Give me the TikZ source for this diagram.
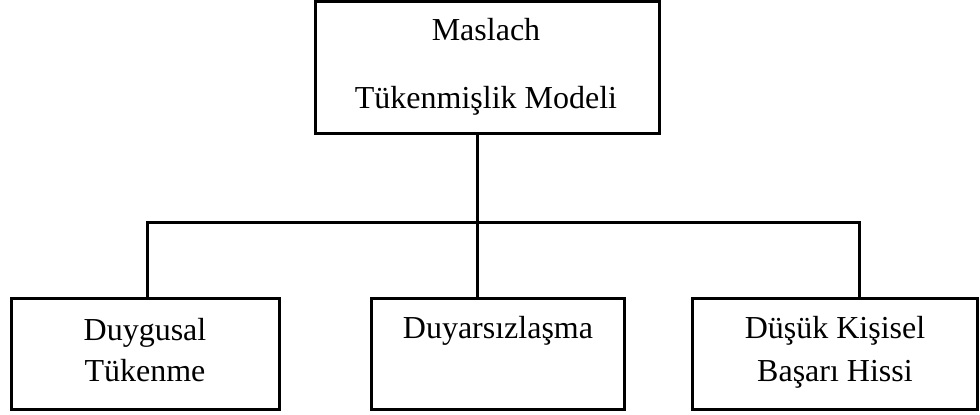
\documentclass[tikz,border=0pt]{standalone}
\usepackage{fontspec}
\setmainfont{Liberation Serif}
\begin{document}
\begin{tikzpicture}[x=1pt,y=-1pt,
  box/.style={draw=black, line width=3pt, rectangle, inner sep=0pt},
  lbl/.style={anchor=base, inner sep=0pt, font=\fontsize{32}{42}\selectfont},
  link/.style={draw=black, line width=3pt}]
\useasboundingbox (0,0) rectangle (980,415);

% boxes
\node[box, minimum width=344pt, minimum height=132pt] (top) at (487.5,67.5) {};
\node[box, minimum width=268pt, minimum height=111pt] (left) at (145,353.5) {};
\node[box, minimum width=253pt, minimum height=111pt] (mid) at (497.5,353.5) {};
\node[box, minimum width=285pt, minimum height=111pt] (right) at (834.5,353.5) {};

% labels
\node[lbl] (top1) at (486,40) {Maslach};
\node[lbl] (top2) at (486,108) {Tükenmişlik Modeli};
\node[lbl] (l1) at (145,340) {Duygusal};
\node[lbl] (l2) at (145,381) {Tükenme};
\node[lbl] (m1) at (498,338) {Duyarsızlaşma};
\node[lbl] (r1) at (835,338) {Düşük Kişisel};
\node[lbl] (r2) at (835,381) {Başarı Hissi};

% connectors
\coordinate (jL) at (147,222);
\coordinate (jM) at (477,222);
\coordinate (jR) at (859,222);
\draw[link] (jM |- top.south) -- (jM |- mid.north);
\draw[link] (jL |- left.north) -- (jL) -- (jR) -- (jR |- right.north);
\end{tikzpicture}
\end{document}
